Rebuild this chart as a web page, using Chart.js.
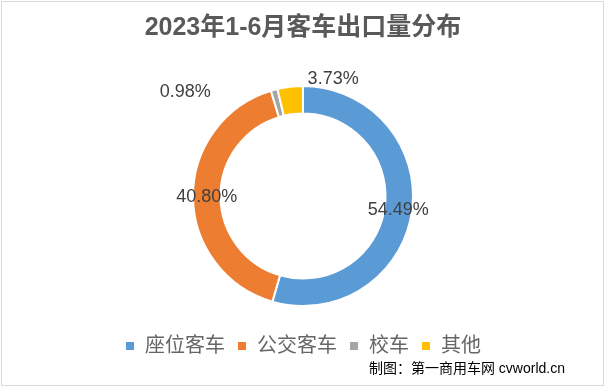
<!DOCTYPE html>
<html>
<head>
<meta charset="utf-8">
<script src="https://cdn.jsdelivr.net/npm/chart.js@4"></script>
<style>
body { margin: 0; background: #fff; }
#wrap { width: 606px; height: 388px; }
</style>
</head>
<body>
<div id="wrap"><canvas id="exportChart" width="606" height="388"></canvas></div>
<script>

// 2023年1-6月客车出口量分布
const categories = ["座位客车", "公交客车", "校车", "其他"];
const shares = [54.49, 40.80, 0.98, 3.73];
const sliceColors = ["#5B9BD5", "#ED7D31", "#A5A5A5", "#FFC000"];

// small slices get their label pushed outside the ring (px from outer edge)
const labelShift = [null, null, [-89, 2], [43, -8]];

const fontCJK = "'Liberation Sans', 'Noto Sans CJK SC', sans-serif";

const pctLabels = {
    id: "pctLabels",
    afterDatasetsDraw(chart) {
        const ctx = chart.ctx;
        const meta = chart.getDatasetMeta(0);
        ctx.save();
        ctx.font = "18px " + fontCJK;
        ctx.fillStyle = "#404040";
        ctx.textAlign = "center";
        ctx.textBaseline = "middle";
        meta.data.forEach((arc, i) => {
            let txt = shares[i].toFixed(2) + "%";
            let x, y;
            if (labelShift[i]) {
                const p = arc.getProps(["x", "y", "startAngle", "endAngle", "outerRadius"], true);
                const mid = (p.startAngle + p.endAngle) / 2;
                x = p.x + Math.cos(mid) * p.outerRadius + labelShift[i][0];
                y = p.y + Math.sin(mid) * p.outerRadius + labelShift[i][1];
            } else {
                const pos = arc.tooltipPosition(true);
                x = pos.x;
                y = pos.y;
            }
            ctx.fillText(txt, x, y);
        });
        ctx.restore();
    }
};

const frameAndCredit = {
    id: "frameAndCredit",
    beforeDraw(chart) {
        const ctx = chart.ctx;
        ctx.save();
        ctx.fillStyle = "#ffffff";
        ctx.fillRect(0, 0, chart.width, chart.height);
        ctx.strokeStyle = "#d9d9d9";
        ctx.lineWidth = 1;
        ctx.strokeRect(1.5, 1.5, 602, 384);
        ctx.restore();
    },
    afterDraw(chart) {
        const ctx = chart.ctx;
        ctx.save();
        ctx.font = "14px " + fontCJK;
        ctx.fillStyle = "#000000";
        ctx.textAlign = "right";
        ctx.textBaseline = "middle";
        ctx.fillText("制图：第一商用车网 cvworld.cn", 565, 369);
        ctx.restore();
    }
};

new Chart(document.getElementById("exportChart"), {

    type: "doughnut",

    data: {
        labels: categories,
        datasets: [
            {
                data: shares,
                backgroundColor: sliceColors,
                borderColor: "#ffffff",
                borderWidth: 2,
                radius: 110,
                cutout: "75%"
            }
        ]
    },

    options: {
        responsive: false,
        animation: false,
        layout: {
            padding: { bottom: 22 }
        },
        plugins: {
            title: {
                display: true,
                text: "2023年1-6月客车出口量分布",
                color: "#595959",
                font: { size: 25, weight: "bold", family: fontCJK },
                padding: { top: 13, bottom: 25 }
            },
            legend: {
                position: "bottom",
                labels: {
                    boxWidth: 10,
                    boxHeight: 10,
                    padding: 12,
                    color: "#666666",
                    font: { size: 20, family: fontCJK }
                }
            },
            tooltip: { enabled: false }
        }
    },

    plugins: [frameAndCredit, pctLabels]
});
</script>
</body>
</html>
